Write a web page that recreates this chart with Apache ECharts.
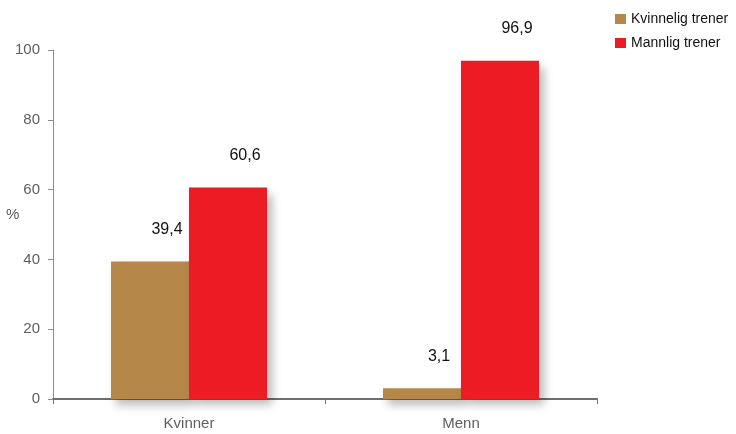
<!DOCTYPE html>
<html><head><meta charset="utf-8">
<script src="https://cdn.jsdelivr.net/npm/echarts@6/dist/echarts.min.js"></script>
<style>html,body{margin:0;padding:0;background:#fff}#c{width:736px;height:434px}</style>
</head><body><div id="c"></div>
<script>
const categories = ['Kvinner', 'Menn'];
const seriesNames = ['Kvinnelig trener', 'Mannlig trener'];
const kvinneligValues = [39.4, 3.1];
const mannligValues = [60.6, 96.9];
const yTicks = [0, 20, 40, 60, 80, 100];
const yAxisTitle = '%';

const FONT = '"Liberation Sans", Arial, sans-serif';
const colors = ['#B5884A', '#ED1C24'];
const chart = echarts.init(document.getElementById('c'));
const labelCfg = {
  show: true, position: 'top', distance: 24, offset: [17, 0],
  color: '#111', fontSize: 16, fontFamily: FONT,
  formatter: p => String(p.value).replace('.', ',')
};
const shadow = { shadowBlur: 9, shadowOffsetX: 5, shadowOffsetY: 6, shadowColor: 'rgba(0,0,0,0.28)' };
chart.setOption({
  animation: false,
  textStyle: { fontFamily: FONT },
  grid: { left: 53, right: 139, top: 50, bottom: 35, containLabel: false, outerBoundsMode: 'none' },
  legend: {
    orient: 'vertical', left: 615, top: 12, padding: 0,
    itemWidth: 11, itemHeight: 10, itemGap: 10,
    icon: 'rect',
    textStyle: { fontSize: 14, color: '#111', fontFamily: FONT },
    data: seriesNames
  },
  graphic: [{
    type: 'text', left: 6, top: 207,
    style: { text: yAxisTitle, fontSize: 15, fill: '#595959', fontFamily: FONT }
  }],
  xAxis: {
    type: 'category', data: categories,
    axisLine: { lineStyle: { color: '#6E6E72', width: 2 } },
    axisTick: { show: true, length: 5, lineStyle: { color: '#6E6E72' } },
    axisLabel: { color: '#5f5f5f', fontSize: 15, margin: 17, fontFamily: FONT },
    splitLine: { show: false }
  },
  yAxis: {
    type: 'value', min: yTicks[0], max: yTicks[yTicks.length - 1], interval: 20,
    axisLine: { show: true, lineStyle: { color: '#8C8C8C', width: 1 } },
    axisTick: { show: true, length: 5, lineStyle: { color: '#8C8C8C' } },
    axisLabel: { color: '#5f5f5f', fontSize: 15, margin: 13, fontFamily: FONT },
    splitLine: { show: false }
  },
  series: [
    { name: seriesNames[0], type: 'bar', data: kvinneligValues, barWidth: 78, barGap: '0%',
      itemStyle: Object.assign({ color: colors[0] }, shadow), label: labelCfg },
    { name: seriesNames[1], type: 'bar', data: mannligValues, barWidth: 78, barGap: '0%',
      itemStyle: Object.assign({ color: colors[1] }, shadow), label: labelCfg }
  ]
});
</script></body></html>
